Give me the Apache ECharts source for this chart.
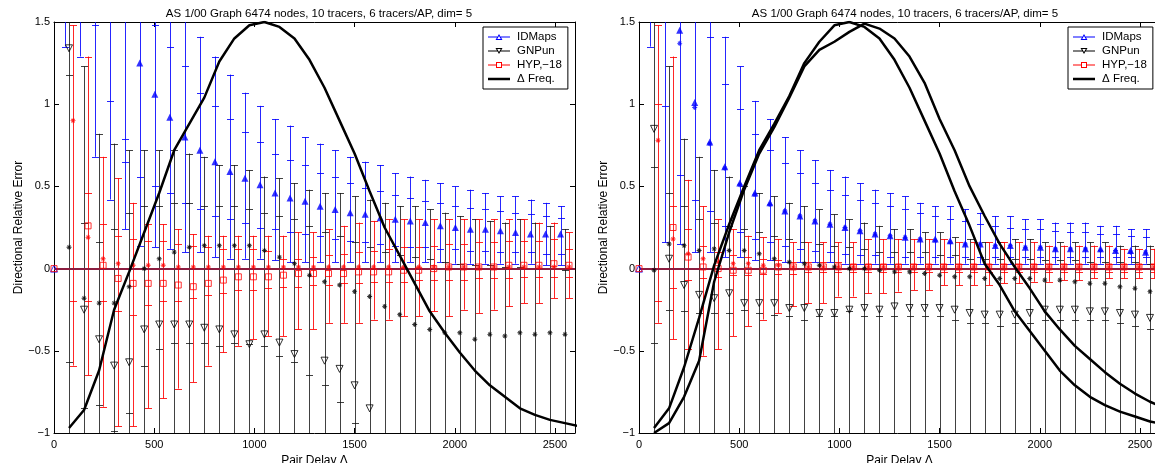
<!DOCTYPE html>
<html>
<head>
<meta charset="utf-8">
<script src="https://cdn.jsdelivr.net/npm/echarts/dist/echarts.min.js"></script>
<style>
  html, body { margin: 0; padding: 0; background: #fff; }
  #chart { width: 1155px; height: 463px; }
</style>
</head>
<body>
<div id="chart"></div>
<script>
// ---------------- data ----------------
// Bin centres of the pair delay Δ
const delays = [75,150,225,300,375,450,525,600,675,750,825,900,975,1050,1125,1200,1275,1350,
                1425,1500,1575,1650,1725,1800,1875,1950,2025,2100,2175,2250,2325,2400,2475,2550];
const freqDelays = [75,150,225,300,375,450,525,600,675,750,825,900,975,1050,1125,1200,1275,1350,
                1425,1500,1575,1650,1725,1800,1875,1950,2025,2100,2175,2250,2325,2400,2475,2550,2625];
const xTicks = [0, 500, 1000, 1500, 2000, 2500];
const yTicks = [-1, -0.5, 0, 0.5, 1, 1.5];
const titleText = 'AS 1/00 Graph 6474 nodes, 10 tracers, 6 tracers/AP, dim= 5';
const legendNames = ['IDMaps', 'GNPun', 'HYP,\u221218', '\u0394 Freq.'];
// value of IDMaps and HYP in the zero-delay bin
const zeroBin = [0, 0];

// ---- left panel ----
// IDMaps: mean, upper whisker, upper inner tick, lower inner tick, lower whisker
const L_idMean = [null,null,null,null,null,1.25,1.06,0.92,0.80,0.72,0.65,0.59,0.55,0.51,0.46,0.43,0.41,0.38,0.36,0.34,0.33,0.31,0.30,0.29,0.28,0.26,0.25,0.24,0.24,0.23,0.22,0.21,0.21,0.21];
const L_idHi   = [1.8,1.8,1.8,1.8,1.8,1.8,1.8,1.8,1.8,1.41,1.29,1.18,1.07,0.99,0.91,0.87,0.80,0.76,0.72,0.68,0.65,0.63,0.58,0.56,0.54,0.52,0.50,0.48,0.46,0.44,0.44,0.42,0.40,0.38];
const L_idUp   = [null,null,1.48,1.02,0.79,null,1.48,1.35,1.23,1.07,0.99,0.91,0.83,0.77,0.70,0.66,0.63,0.58,0.56,0.52,0.49,0.47,0.45,0.43,0.41,0.40,0.38,0.37,0.36,0.35,0.34,0.33,0.32,0.31];
const L_idLoIn = [null,null,null,null,0.65,0.56,0.50,0.46,0.40,0.36,0.32,0.30,0.28,0.25,0.24,0.22,0.21,0.20,0.18,0.17,0.16,0.15,0.14,0.13,0.13,0.12,0.12,0.11,0.11,0.10,0.10,0.10,0.09,0.09];
const L_idLo   = [1.35,1.29,0.68,0.42,0.24,0.14,0.13,0.12,0.10,0.10,0.07,0.06,0.06,0.06,0.05,0.04,0.04,0.04,0.04,0.04,0.04,0.04,0.04,0.04,0.04,0.04,0.03,0.03,0.03,0.03,0.03,0.03,0.02,0.02];
// GNPun
const L_gnMean = [1.34,-0.25,-0.43,-0.59,-0.57,-0.37,-0.34,-0.34,-0.34,-0.36,-0.37,-0.40,-0.46,-0.40,-0.45,-0.52,null,-0.56,-0.61,-0.71,-0.85,null,null,null,null,null,null,null,null,null,null,null,null,null];
const L_gnMed  = [0.13,-0.18,-0.21,-0.21,-0.11,0.00,0.06,0.10,0.13,0.14,0.14,0.14,0.14,0.11,0.07,0.03,-0.04,-0.08,-0.10,-0.14,-0.17,-0.23,-0.28,-0.34,-0.37,-0.39,-0.39,-0.43,-0.40,-0.41,-0.39,-0.40,-0.39,-0.40];
const L_gnHi   = [1.8,1.23,0.82,0.76,0.72,0.72,0.72,0.72,0.70,0.68,0.63,0.63,0.60,0.56,0.55,0.52,0.48,0.46,0.46,0.44,0.42,0.40,0.38,0.38,0.36,0.34,0.32,0.30,0.29,0.28,0.30,0.28,0.26,0.24];
const L_gnUp   = [1.18,0.28,0.16,0.24,0.34,0.38,0.38,0.40,0.40,0.38,0.38,0.38,0.36,0.34,0.32,0.30,0.26,0.22,0.20,0.16,0.13,0.10,0.08,0.07,0.06,0.04,0.03,0.02,0.02,0.01,0.01,0.00,0.00,-0.01];
const L_gnLoIn = [-0.57,-0.85,-0.83,-0.99,-0.88,-0.59,-0.49,-0.45,-0.45,-0.45,-0.47,-0.45,-0.46,-0.47,-0.53,-0.57,-0.65,-0.71,-0.81,-0.94,null,null,null,null,null,null,null,null,null,null,null,null,null,null];
const L_gnLo   = [-1.2,-1.2,-1.2,-1.2,-1.2,-1.2,-1.2,-1.2,-1.2,-1.2,-1.2,-1.2,-1.2,-1.2,-1.2,-1.2,-1.2,-1.2,-1.2,-1.2,-1.2,-1.2,-1.2,-1.2,-1.2,-1.2,-1.2,-1.2,-1.2,-1.2,-1.2,-1.2,-1.2,-1.2];
// HYP,-18
const L_hyMean = [null,0.26,0.02,-0.06,-0.09,-0.09,-0.09,-0.10,-0.11,-0.09,-0.07,-0.05,-0.05,-0.05,-0.04,-0.03,-0.03,-0.03,-0.03,-0.02,-0.02,-0.02,-0.01,-0.01,0.00,0.01,0.01,0.01,0.01,0.02,0.02,0.02,0.03,0.02];
const L_hyMed  = [0.90,0.19,0.06,0.03,0.02,0.02,0.02,0.01,0.01,0.01,0.01,0.01,0.01,0.01,0.01,0.01,0.01,0.01,0.01,0.01,0.01,0.01,0.01,0.01,0.01,0.01,0.01,0.01,0.01,0.01,0.01,0.01,0.01,0.01];
const L_hyHi   = [1.48,1.29,0.68,0.55,0.40,0.27,0.27,0.24,0.21,0.20,0.20,0.20,0.20,0.20,0.20,0.22,0.22,0.24,0.26,0.28,0.29,0.30,0.30,0.30,0.30,0.30,0.30,0.30,0.30,0.30,0.30,0.28,0.28,0.22];
const L_hyUp   = [null,0.46,0.27,0.20,0.18,0.17,0.17,0.15,0.14,0.13,0.12,0.12,0.12,0.11,0.06,0.06,0.07,0.08,0.09,0.10,0.11,0.12,0.13,0.13,0.14,0.15,0.15,0.16,0.16,0.17,0.17,0.17,0.18,0.12];
const L_hyLoIn = [-0.20,-0.20,-0.20,-0.26,-0.28,-0.22,-0.20,-0.20,-0.18,-0.16,-0.15,-0.13,-0.13,-0.12,-0.11,-0.11,-0.10,-0.10,-0.09,-0.09,-0.08,-0.08,-0.08,-0.07,-0.07,-0.07,-0.07,-0.06,-0.06,-0.06,-0.05,-0.05,-0.05,-0.05];
const L_hyLo   = [-0.59,-0.65,-0.84,-0.96,-0.96,-0.85,-0.79,-0.73,-0.69,-0.59,-0.51,-0.47,-0.43,-0.41,-0.41,-0.37,-0.37,-0.33,-0.33,-0.33,-0.31,-0.31,-0.29,-0.29,-0.26,-0.29,-0.25,-0.27,-0.25,-0.23,-0.21,-0.21,-0.18,-0.18];
// Δ frequency curve
const L_freq = [-0.97,-0.86,-0.62,-0.25,-0.02,0.22,0.46,0.72,0.88,1.04,1.26,1.40,1.48,1.50,1.47,1.40,1.27,1.10,0.90,0.70,0.47,0.25,0.08,-0.09,-0.26,-0.39,-0.51,-0.62,-0.71,-0.78,-0.85,-0.89,-0.92,-0.94,-0.96];

// ---- right panel ----
const R_idMean = [null,null,1.45,1.01,0.77,0.62,0.52,0.46,0.40,0.35,0.32,0.29,0.27,0.25,0.23,0.21,0.20,0.19,0.18,0.18,0.17,0.15,0.15,0.14,0.14,0.13,0.13,0.12,0.12,0.12,0.12,0.11,0.11,0.10];
const R_idMed  = [null,null,1.37,0.98,0.76,0.61,0.51,0.45,0.39,0.35,0.32,0.29,0.27,0.25,0.23,0.21,0.20,0.19,0.18,0.17,0.16,0.15,0.15,0.14,0.14,0.13,0.13,0.12,0.12,0.12,0.11,0.11,0.10,0.10];
const R_idHi   = [1.8,1.8,1.8,1.8,1.8,1.41,1.23,1.02,0.91,0.80,0.72,0.66,0.60,0.56,0.52,0.48,0.46,0.44,0.40,0.38,0.38,0.36,0.34,0.32,0.32,0.30,0.30,0.28,0.28,0.28,0.26,0.26,0.24,0.24];
const R_idUp   = [null,0.99,null,null,1.41,1.12,0.97,0.82,0.72,0.64,0.58,0.52,0.48,0.45,0.42,0.40,0.38,0.36,0.34,0.32,0.30,0.29,0.27,0.26,0.25,0.24,0.24,0.23,0.22,0.22,0.21,0.21,0.20,0.19];
const R_idLoIn = [null,null,0.57,0.42,0.35,0.26,0.22,0.18,0.16,0.14,0.12,0.11,0.10,0.09,0.08,0.08,0.07,0.07,0.07,0.07,0.07,0.07,0.07,0.07,0.07,0.07,0.07,0.07,0.07,0.07,0.07,0.07,0.07,0.07];
const R_idLo   = [1.35,0.16,0.15,0.10,0.10,0.07,0.07,0.05,0.05,0.04,0.04,0.04,0.04,0.03,0.03,0.03,0.03,0.03,0.03,0.03,0.03,0.03,0.03,0.03,0.03,0.03,0.03,0.03,0.03,0.03,0.03,0.03,0.03,0.03];
const R_gnMean = [0.85,0.06,-0.10,-0.16,-0.18,-0.15,-0.21,-0.21,-0.21,-0.24,-0.24,-0.27,-0.27,-0.25,-0.24,-0.25,-0.23,-0.24,-0.24,-0.24,-0.25,-0.27,-0.28,-0.28,-0.28,-0.27,-0.25,-0.25,-0.25,-0.26,-0.26,-0.27,-0.28,-0.30];
const R_gnMed  = [-0.01,0.15,0.14,0.11,0.12,0.11,0.11,0.09,0.06,0.04,0.03,0.02,0.01,0.00,0.00,-0.01,-0.02,-0.02,-0.03,-0.04,-0.05,-0.05,-0.06,-0.06,-0.06,-0.06,-0.07,-0.07,-0.08,-0.09,-0.09,-0.11,-0.12,-0.14];
const R_gnHi   = [1.8,1.23,0.79,0.68,0.60,0.56,0.50,0.46,0.44,0.40,0.38,0.36,0.33,0.30,0.28,0.26,0.24,0.24,0.22,0.22,0.19,0.18,0.16,0.16,0.18,0.18,0.16,0.16,0.16,0.16,0.16,0.14,0.14,0.14];
const R_gnUp   = [0.62,0.46,0.38,0.30,0.28,0.26,0.24,0.22,0.20,0.18,0.16,0.15,0.14,0.13,0.12,0.10,0.10,0.10,0.10,0.08,0.08,0.06,0.06,0.06,0.06,0.06,0.05,0.05,0.05,0.04,0.04,0.04,0.04,0.03];
const R_gnLoIn = [-0.45,-0.25,-0.26,-0.27,-0.27,-0.27,-0.25,-0.27,-0.28,-0.29,-0.31,-0.29,-0.29,-0.26,-0.29,-0.29,-0.29,-0.29,-0.29,-0.29,-0.31,-0.33,-0.33,-0.35,-0.33,-0.33,-0.31,-0.31,-0.31,-0.31,-0.31,-0.33,-0.35,-0.37];
const R_gnLo   = [-1.2,-1.2,-1.2,-1.2,-1.2,-1.2,-1.2,-1.2,-1.2,-1.2,-1.2,-1.2,-1.2,-1.2,-1.2,-1.2,-1.2,-1.2,-1.2,-1.2,-1.2,-1.2,-1.2,-1.2,-1.2,-1.2,-1.2,-1.2,-1.2,-1.2,-1.2,-1.2,-1.2,-1.2];
const R_hyMean = [null,0.25,0.07,0.01,0.00,-0.01,-0.01,-0.01,0.01,0.01,0.01,0.01,0.01,0.01,0.01,0.01,0.01,0.01,0.01,0.01,0.01,0.01,0.01,0.01,0.01,0.01,0.01,0.01,0.01,0.01,0.01,0.01,0.01,0.01];
const R_hyMed  = [0.78,0.18,0.09,0.06,0.04,0.03,0.03,0.02,0.02,0.01,0.01,0.01,0.01,0.01,0.01,0.01,0.01,0.01,0.01,0.01,0.01,0.01,0.01,0.01,0.01,0.01,0.01,0.01,0.01,0.01,0.01,0.01,0.01,0.01];
const R_hyHi   = [1.48,1.29,0.54,0.38,0.30,0.24,0.20,0.19,0.18,0.16,0.16,0.16,0.16,0.16,0.18,0.18,0.18,0.18,0.18,0.18,0.16,0.16,0.16,0.16,0.16,0.16,0.14,0.14,0.14,0.14,0.14,0.12,0.12,0.12];
const R_hyUp   = [1.00,0.38,0.24,0.14,0.10,0.08,0.07,0.06,0.05,0.04,0.04,0.04,0.04,0.03,0.03,0.03,0.03,0.03,0.03,0.03,0.03,0.03,0.03,0.03,0.03,0.03,0.03,0.03,0.03,0.03,0.03,0.03,0.03,0.03];
const R_hyLoIn = [-0.20,-0.12,-0.07,-0.06,-0.05,-0.04,-0.04,-0.03,-0.03,-0.03,-0.02,-0.02,-0.02,-0.02,-0.02,-0.02,-0.02,-0.02,-0.02,-0.02,-0.02,-0.02,-0.02,-0.02,-0.02,-0.02,-0.02,-0.02,-0.02,-0.02,-0.02,-0.02,-0.02,-0.02];
const R_hyLo   = [-0.33,-0.43,-0.49,-0.53,-0.49,-0.41,-0.35,-0.31,-0.27,-0.23,-0.21,-0.21,-0.17,-0.17,-0.15,-0.15,-0.14,-0.13,-0.13,-0.10,-0.10,-0.10,-0.10,-0.09,-0.09,-0.08,-0.08,-0.07,-0.07,-0.06,-0.06,-0.06,-0.06,-0.06];
// two Δ frequency curves
const R_freqA = [-0.97,-0.85,-0.60,-0.30,0.02,0.27,0.50,0.72,0.88,1.05,1.25,1.38,1.48,1.50,1.47,1.40,1.27,1.10,0.90,0.70,0.47,0.26,0.03,-0.10,-0.26,-0.38,-0.50,-0.62,-0.71,-0.78,-0.83,-0.87,-0.90,-0.93,-0.95];
const R_freqB = [-1.00,-0.94,-0.78,-0.56,-0.08,0.22,0.48,0.70,0.86,1.04,1.23,1.33,1.38,1.44,1.49,1.46,1.40,1.29,1.13,0.91,0.72,0.50,0.32,0.15,0.01,-0.12,-0.26,-0.37,-0.47,-0.55,-0.63,-0.70,-0.76,-0.81,-0.85];

// ---------------- styling ----------------
const FONT = '"Liberation Sans", Arial, Helvetica, sans-serif';
const BLUE = '#0000ff', RED = '#ff0000', BLACK = '#000000', ZERO = '#8c1d40';
const SHIFT = { idmaps: -22, gnpun: 0, hyp: 20 };   // horizontal dodge of the three estimators
const ASTERISK = 'path://M-5,-0.9H5V0.9H-5Z M-0.9,-5H0.9V5H-0.9Z M-2.9,-4.1L4.1,2.9L2.9,4.1L-4.1,-2.9Z M-4.1,2.9L2.9,-4.1L4.1,-2.9L-2.9,4.1Z';
// legend keys: thin line with a hollow marker in the middle
const KEY_UP   = 'path://M0,4.5H9.25V5.5H0Z M12.75,4.5H22V5.5H12.75Z M11,2L14.5,8L7.5,8Z M11,4L9.25,7L12.75,7Z';
const KEY_DOWN = 'path://M0,4.5H9.25V5.5H0Z M12.75,4.5H22V5.5H12.75Z M7.5,2L14.5,2L11,8Z M9.25,3L11,6L12.75,3Z';
const KEY_RECT = 'path://M0,4.5H8.5V5.5H0Z M13.5,4.5H22V5.5H13.5Z M8,2H14V8H8Z M9,3V7H13V3Z';
const KEY_BOLD = 'path://M0,0H22V2.5H0Z';

function points(values, dx) {
  return delays.map((d, i) => [d + dx, values[i]]).filter(p => p[1] !== null && p[1] !== undefined);
}
function whiskers(lo, loIn, upIn, hi, dx) {
  return delays.map((d, i) => [d + dx, lo[i], loIn[i] === null ? NaN : loIn[i], upIn[i] === null ? NaN : upIn[i], hi[i]]);
}
function errorBarSeries(data, color, grid, z, opacity) {
  return {
    type: 'custom', xAxisIndex: grid * 2, yAxisIndex: grid * 2, clip: true, z: z, silent: true,
    encode: { x: 0, y: [1, 4] },
    data: data,
    renderItem: function (params, api) {
      const x = api.value(0);
      const lo = api.value(1), hi = api.value(4);
      const style = { stroke: color, lineWidth: 1, opacity: opacity };
      const pLo = api.coord([x, lo]), pHi = api.coord([x, hi]);
      const px = Math.round(pLo[0]) + 0.5;
      const children = [{ type: 'line', shape: { x1: px, y1: pLo[1], x2: px, y2: pHi[1] }, style: style }];
      [1, 2, 3, 4].forEach(function (k) {
        const v = api.value(k);
        if (isFinite(v)) {
          const py = Math.round(api.coord([x, v])[1]) + 0.5;
          children.push({ type: 'line', shape: { x1: px - 3.5, y1: py, x2: px + 3.5, y2: py }, style: style });
        }
      });
      return { type: 'group', children: children };
    }
  };
}
function markerSeries(data, grid, symbol, size, item, z, rotate) {
  return {
    type: 'scatter', xAxisIndex: grid * 2, yAxisIndex: grid * 2, data: data, symbol: symbol,
    symbolSize: size, symbolRotate: rotate || 0, itemStyle: item, z: z, silent: true, clip: true
  };
}
function freqSeries(values, grid) {
  return {
    type: 'line', name: '\u0394 Freq.', xAxisIndex: grid * 2, yAxisIndex: grid * 2,
    data: freqDelays.map((d, i) => [d, values[i]]), symbol: 'none', clip: true, z: 10,
    lineStyle: { color: BLACK, width: 2.5 }, itemStyle: { color: BLACK }, silent: true
  };
}

function panel(grid, p) {
  const s = [];
  s.push(errorBarSeries(whiskers(p.idLo, p.idLoIn, p.idUp, p.idHi, SHIFT.idmaps), BLUE, grid, 2, 0.85));
  s.push(errorBarSeries(whiskers(p.gnLo, p.gnLoIn, p.gnUp, p.gnHi, SHIFT.gnpun), '#111111', grid, 3, 0.8));
  s.push(errorBarSeries(whiskers(p.hyLo, p.hyLoIn, p.hyUp, p.hyHi, SHIFT.hyp), RED, grid, 4, 0.85));
  s.push({
    type: 'line', xAxisIndex: grid * 2, yAxisIndex: grid * 2, data: [], z: 5, silent: true,
    markLine: { silent: true, symbol: 'none', label: { show: false }, animation: false,
      lineStyle: { color: ZERO, width: 2, type: 'solid' }, data: [{ yAxis: 0 }] }
  });
  s.push(markerSeries(points(p.idMean, SHIFT.idmaps), grid, 'triangle', 7, { color: BLUE }, 6));
  if (p.idMed) s.push(markerSeries(points(p.idMed, SHIFT.idmaps), grid, ASTERISK, 5, { color: BLUE }, 7));
  s.push(markerSeries([[0, zeroBin[0]]], grid, 'triangle', 7, { color: 'rgba(0,0,0,0)', borderColor: BLUE, borderWidth: 1 }, 6));
  s.push(markerSeries(points(p.gnMean, SHIFT.gnpun), grid, 'triangle', 7,
    { color: 'rgba(0,0,0,0)', borderColor: BLACK, borderWidth: 1 }, 6, 180));
  s.push(markerSeries(points(p.gnMed, SHIFT.gnpun), grid, ASTERISK, 5, { color: BLACK }, 7));
  s.push(markerSeries(points(p.hyMean, SHIFT.hyp), grid, 'rect', 6,
    { color: 'rgba(0,0,0,0)', borderColor: RED, borderWidth: 1 }, 6));
  s.push(markerSeries([[0, zeroBin[1]]], grid, 'rect', 6, { color: 'rgba(0,0,0,0)', borderColor: RED, borderWidth: 1 }, 6));
  s.push(markerSeries(points(p.hyMed, SHIFT.hyp), grid, ASTERISK, 5, { color: RED }, 7));
  p.freq.forEach(f => s.push(freqSeries(f, grid)));
  return s;
}

// series that only provide the legend keys
const legendKeys = [
  { type: 'line', name: legendNames[0], data: [], xAxisIndex: 0, yAxisIndex: 0, symbol: 'none',
    lineStyle: { color: BLUE, width: 1 }, itemStyle: { color: BLUE, borderWidth: 0 } },
  { type: 'line', name: legendNames[1], data: [], xAxisIndex: 0, yAxisIndex: 0, symbol: 'none',
    lineStyle: { color: BLACK, width: 1 }, itemStyle: { color: BLACK, borderWidth: 0 } },
  { type: 'line', name: legendNames[2], data: [], xAxisIndex: 0, yAxisIndex: 0, symbol: 'none',
    lineStyle: { color: RED, width: 1 }, itemStyle: { color: RED, borderWidth: 0 } }
];

const series = [].concat(
  legendKeys,
  panel(0, { idMean: L_idMean, idHi: L_idHi, idUp: L_idUp, idLoIn: L_idLoIn, idLo: L_idLo,
             gnMean: L_gnMean, gnMed: L_gnMed, gnHi: L_gnHi, gnUp: L_gnUp, gnLoIn: L_gnLoIn, gnLo: L_gnLo,
             hyMean: L_hyMean, hyMed: L_hyMed, hyHi: L_hyHi, hyUp: L_hyUp, hyLoIn: L_hyLoIn, hyLo: L_hyLo,
             freq: [L_freq] }),
  panel(1, { idMean: R_idMean, idMed: R_idMed, idHi: R_idHi, idUp: R_idUp, idLoIn: R_idLoIn, idLo: R_idLo,
             gnMean: R_gnMean, gnMed: R_gnMed, gnHi: R_gnHi, gnUp: R_gnUp, gnLoIn: R_gnLoIn, gnLo: R_gnLo,
             hyMean: R_hyMean, hyMed: R_hyMed, hyHi: R_hyHi, hyUp: R_hyUp, hyLoIn: R_hyLoIn, hyLo: R_hyLo,
             freq: [R_freqA, R_freqB] })
);

// ---------------- axes ----------------
const tickStyle = { show: true, inside: true, length: 5, lineStyle: { color: BLACK, width: 1 } };
const lineStyle = { show: true, onZero: false, lineStyle: { color: BLACK, width: 1 } };
const labelText = { color: BLACK, fontSize: 11, fontFamily: FONT };
function fmtY(v) { return (v < 0 ? '\u2212' : '') + Math.abs(v); }

const xAxis = [], yAxis = [];
[0, 1].forEach(function (g) {
  xAxis.push({
    type: 'value', gridIndex: g, position: 'bottom', min: xTicks[0], max: 2600, interval: 500,
    name: 'Pair Delay \u0394', nameLocation: 'middle', nameGap: 22,
    nameTextStyle: { color: BLACK, fontSize: 12, fontFamily: FONT },
    axisLine: lineStyle, axisTick: tickStyle, splitLine: { show: false },
    axisLabel: Object.assign({ margin: 6, showMaxLabel: false,
      formatter: v => (xTicks.indexOf(v) >= 0 ? String(v) : '') }, labelText)
  });
  xAxis.push({
    type: 'value', gridIndex: g, position: 'top', min: xTicks[0], max: 2600, interval: 500,
    axisLine: lineStyle, axisTick: tickStyle, axisLabel: { show: false }, splitLine: { show: false }
  });
  yAxis.push({
    type: 'value', gridIndex: g, position: 'left', min: yTicks[0], max: yTicks[yTicks.length - 1], interval: 0.5,
    name: 'Directional Relative Error', nameLocation: 'middle', nameGap: 29,
    nameTextStyle: { color: BLACK, fontSize: 12, fontFamily: FONT },
    axisLine: lineStyle, axisTick: tickStyle, splitLine: { show: false },
    axisLabel: Object.assign({ margin: 4, formatter: fmtY }, labelText)
  });
  yAxis.push({
    type: 'value', gridIndex: g, position: 'right', min: yTicks[0], max: yTicks[yTicks.length - 1], interval: 0.5,
    axisLine: lineStyle, axisTick: tickStyle, axisLabel: { show: false }, splitLine: { show: false }
  });
});

function legendAt(left) {
  return {
    data: [
      { name: legendNames[0], icon: KEY_UP },
      { name: legendNames[1], icon: KEY_DOWN },
      { name: legendNames[2], icon: KEY_RECT },
      { name: legendNames[3], icon: KEY_BOLD, itemStyle: { color: BLACK, borderWidth: 0 } }
    ],
    left: left, top: 27, orient: 'vertical', itemGap: 2, itemWidth: 22, itemHeight: 10,
    padding: [4, 6, 4, 5], borderColor: BLACK, borderWidth: 1, backgroundColor: '#fff', selectedMode: false,
    itemStyle: { borderWidth: 0 },
    textStyle: { color: BLACK, fontSize: 11.5, fontFamily: FONT, padding: [0, 0, 0, 2] }
  };
}

const option = {
  animation: false,
  backgroundColor: '#ffffff',
  title: [
    { text: titleText, left: 314, top: 3, textAlign: 'center',
      textStyle: { fontSize: 11.5, fontWeight: 'normal', color: BLACK, fontFamily: FONT } },
    { text: titleText, left: 900, top: 3, textAlign: 'center',
      textStyle: { fontSize: 11.5, fontWeight: 'normal', color: BLACK, fontFamily: FONT } }
  ],
  legend: [legendAt(483), legendAt(1068)],
  grid: [
    { left: 54, top: 22, width: 521, height: 411, outerBoundsMode: 'none', containLabel: false },
    { left: 639, top: 22, width: 521, height: 411, outerBoundsMode: 'none', containLabel: false }
  ],
  xAxis: xAxis,
  yAxis: yAxis,
  series: series
};

const chart = echarts.init(document.getElementById('chart'), null, { renderer: 'canvas' });
chart.setOption(option);
</script>
</body>
</html>
